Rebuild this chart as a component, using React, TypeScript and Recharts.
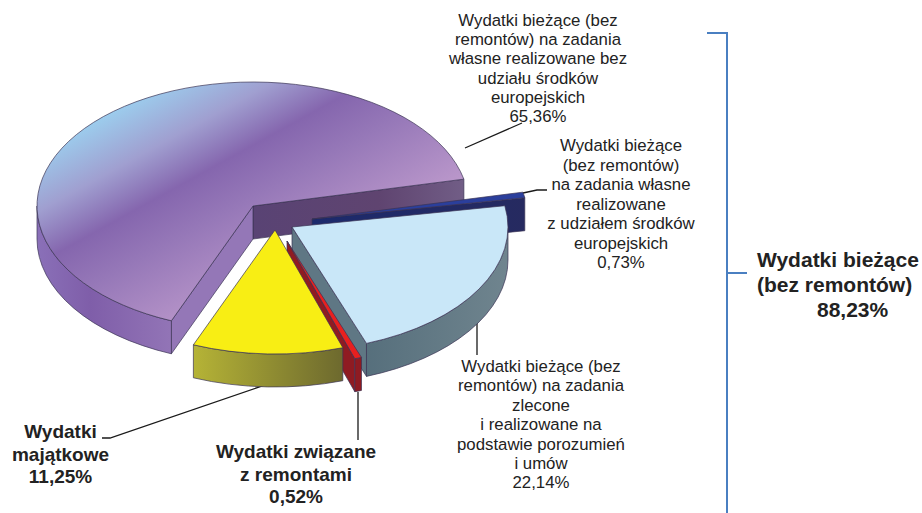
import React from "react";
import { PieChart, Pie } from "recharts";

const categories = ["majority", "darkblue", "lightblue", "red", "yellow"];
const values = [65.36, 0.73, 22.14, 0.52, 11.25];
const chartData = categories.map((name, i) => ({ name, value: values[i] }));

const label1 = ["Wydatki bieżące (bez", "remontów) na zadania", "własne realizowane bez", "udziału środków", "europejskich", "65,36%"];
const label2 = ["Wydatki bieżące", "(bez remontów)", "na zadania własne", "realizowane", "z udziałem środków", "europejskich", "0,73%"];
const label3 = ["Wydatki bieżące (bez", "remontów) na zadania", "zlecone", "i realizowane na", "podstawie porozumień", "i umów", "22,14%"];
const label4 = ["Wydatki", "majątkowe", "11,25%"];
const label5 = ["Wydatki związane", "z remontami", "0,52%"];
const label6 = ["Wydatki bieżące", "(bez remontów)"];
const label6Value = "88,23%";

const CX = 253;
const CY = 206;
const RX = 216;
const RY = 124;
const DEPTH = 33;
const OUTLINE = "#3b3355";

const looks: Record<string, { dx: number; dy: number; top: string; arc: string; lo: string; hi: string }> = {
  majority: { dx: 0, dy: 0, top: "url(#gTop)", arc: "url(#gPurpleArc)", lo: "url(#gPurpleFace)", hi: "#9477b7" },
  darkblue: { dx: 59, dy: 13, top: "#2b3f9c", arc: "#1e2560", lo: "url(#gNavy)", hi: "#1e2560" },
  lightblue: { dx: 39, dy: 21, top: "#c9e7f8", arc: "url(#gSlate)", lo: "#5f7784", hi: "#5f7784" },
  red: { dx: 34, dy: 35, top: "#e8201f", arc: "#8f1b22", lo: "#8f1b22", hi: "#8f1b22" },
  yellow: { dx: 22, dy: 24, top: "#f8ee14", arc: "url(#gOlive)", lo: "#8f8c30", hi: "#8f8c30" },
};

const rad = (d: number) => (d * Math.PI) / 180;

function SliceShape(props: any) {
  const look = looks[props.name] ?? looks.majority;
  const rx = props.outerRadius;
  const ry = (props.outerRadius * RY) / RX;
  const x0 = props.cx + look.dx;
  const y0 = props.cy + look.dy;
  const lo = Math.min(props.startAngle, props.endAngle);
  const hi = Math.max(props.startAngle, props.endAngle);
  const px = (a: number) => x0 + rx * Math.cos(rad(a));
  const py = (a: number) => y0 - ry * Math.sin(rad(a));
  const large = hi - lo > 180 ? 1 : 0;
  const topPath = `M${x0},${y0}L${px(lo)},${py(lo)}A${rx},${ry} 0 ${large} 0 ${px(hi)},${py(hi)}Z`;
  const face = (a: number) =>
    `M${x0},${y0}L${px(a)},${py(a)}L${px(a)},${py(a) + DEPTH}L${x0},${y0 + DEPTH}Z`;
  const arcs: string[] = [];
  for (const [s, e] of [[-180, 0], [180, 360]]) {
    const a = Math.max(lo, s);
    const b = Math.min(hi, e);
    if (b > a) {
      arcs.push(
        `M${px(a)},${py(a)}A${rx},${ry} 0 0 0 ${px(b)},${py(b)}L${px(b)},${py(b) + DEPTH}A${rx},${ry} 0 0 1 ${px(a)},${py(a) + DEPTH}Z`
      );
    }
  }
  const common = { stroke: OUTLINE, strokeWidth: 0.7, strokeLinejoin: "round" as const };
  return (
    <g>
      {Math.cos(rad(lo)) > 0 && <path d={face(lo)} fill={look.lo} {...common} />}
      {Math.cos(rad(hi)) < 0 && <path d={face(hi)} fill={look.hi} {...common} />}
      {arcs.map((d, i) => (
        <path key={i} d={d} fill={look.arc} {...common} />
      ))}
      <path d={topPath} fill={look.top} {...common} />
    </g>
  );
}

const FONT = "'Liberation Sans', Arial, sans-serif";

function Lines({ lines, x, y, step, bold }: { lines: string[]; x: number; y: number; step: number; bold?: boolean }) {
  return (
    <text
      textAnchor="middle"
      fontFamily={FONT}
      fontSize={bold ? 19 : 16.8}
      fontWeight={bold ? 700 : 400}
      fill="#222"
    >
      {lines.map((l, i) => (
        <tspan key={i} x={x} y={y + i * step}>
          {l}
        </tspan>
      ))}
    </text>
  );
}

export default function App() {
  return (
    <div style={{ position: "absolute", left: 0, top: 0, width: 922, height: 513, background: "#fff" }}>
      <PieChart width={922} height={513} margin={{ top: 0, right: 0, bottom: 0, left: 0 }}>
        <defs>
          <linearGradient id="gTop" gradientUnits="userSpaceOnUse" x1={100} y1={120} x2={210} y2={320}>
            <stop offset="0" stopColor="#9ccbec" />
            <stop offset="0.22" stopColor="#a09fd0" />
            <stop offset="0.42" stopColor="#8566ae" />
            <stop offset="0.62" stopColor="#9678b8" />
            <stop offset="1" stopColor="#bb98cb" />
          </linearGradient>
          <linearGradient id="gPurpleArc" gradientUnits="userSpaceOnUse" x1={37} y1={0} x2={170} y2={0}>
            <stop offset="0" stopColor="#8a70b8" />
            <stop offset="0.4" stopColor="#7f5ea9" />
            <stop offset="1" stopColor="#9274b6" />
          </linearGradient>
          <linearGradient id="gPurpleFace" gradientUnits="userSpaceOnUse" x1={253} y1={0} x2={463} y2={0}>
            <stop offset="0" stopColor="#594374" />
            <stop offset="0.6" stopColor="#5f4470" />
            <stop offset="1" stopColor="#715d86" />
          </linearGradient>
          <linearGradient id="gNavy" gradientUnits="userSpaceOnUse" x1={312} y1={0} x2={525} y2={0}>
            <stop offset="0" stopColor="#1c2a6c" />
            <stop offset="1" stopColor="#262a60" />
          </linearGradient>
          <linearGradient id="gSlate" gradientUnits="userSpaceOnUse" x1={365} y1={0} x2={505} y2={0}>
            <stop offset="0" stopColor="#566f7c" />
            <stop offset="1" stopColor="#6f848e" />
          </linearGradient>
          <linearGradient id="gOlive" gradientUnits="userSpaceOnUse" x1={194} y1={0} x2={345} y2={0}>
            <stop offset="0" stopColor="#b5b336" />
            <stop offset="1" stopColor="#6c682e" />
          </linearGradient>
        </defs>
        <Pie
          data={chartData}
          dataKey="value"
          nameKey="name"
          cx={CX}
          cy={CY}
          innerRadius={0}
          outerRadius={RX}
          startAngle={247.8}
          endAngle={-112.2}
          stroke="none"
          isAnimationActive={false}
          shape={SliceShape}
          activeShape={SliceShape}
          inactiveShape={SliceShape}
          legendType="none"
        />
        <g fill="none" stroke="#1a1a1a" strokeWidth={1.3}>
          <polyline points="465,148 522,123" />
          <polyline points="523,193 537,190 547,190" />
          <polyline points="477,323 477,355" />
          <polyline points="358,392 358,440" />
          <polyline points="268,384 110,438 102,438" />
        </g>
        <g fill="none" stroke="#4a7fc1" strokeWidth={2}>
          <polyline points="707,33 727,33 727,513" />
          <polyline points="727,273 747,273" />
        </g>
        <Lines lines={label1} x={538} y={26} step={19.2} />
        <Lines lines={label2} x={621} y={151} step={19.5} />
        <Lines lines={label3} x={541} y={372} step={19.4} />
        <Lines lines={label4} x={60.5} y={438} step={22.5} bold />
        <Lines lines={label5} x={296} y={458} step={22.5} bold />
        <text fontFamily={FONT} fontSize={21} fontWeight={700} fill="#222">
          {label6.map((l, i) => (
            <tspan key={i} x={757} y={267 + i * 25}>
              {l}
            </tspan>
          ))}
          <tspan x={817} y={317}>
            {label6Value}
          </tspan>
        </text>
      </PieChart>
    </div>
  );
}
